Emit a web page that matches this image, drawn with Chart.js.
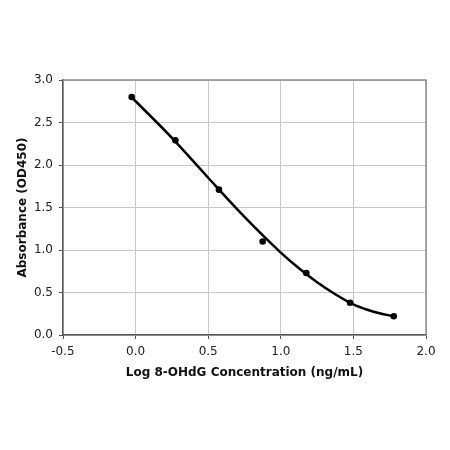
<!DOCTYPE html>
<html>
<head>
<meta charset="utf-8">
<script src="https://cdn.jsdelivr.net/npm/chart.js@4.4.1/dist/chart.umd.min.js"></script>
<style>
html,body{margin:0;padding:0;background:#fff;}
canvas{display:block;}
</style>
</head>
<body>
<canvas id="c" width="450" height="450"></canvas>
<script>
// Measured standard points
const logConc = [-0.027, 0.274, 0.574, 0.875, 1.176, 1.477, 1.778];
const absorbance = [2.80, 2.29, 1.71, 1.10, 0.73, 0.38, 0.22];
// Fitted curve
const fitX = [-0.03, 0.0, 0.25, 0.5, 0.75, 1.0, 1.125, 1.25, 1.375, 1.5, 1.59, 1.68, 1.78];
const fitY = [2.80, 2.75, 2.32, 1.85, 1.39, 0.97, 0.785, 0.62, 0.48, 0.36, 0.30, 0.255, 0.22];
// Axis settings
const xTitle = 'Log 8-OHdG Concentration (ng/mL)';
const yTitle = 'Absorbance (OD450)';
const xRange = [-0.5, 2.0];
const yRange = [0, 3.0];
const tickStep = 0.5;

const pts = logConc.map((x, i) => ({x: x, y: absorbance[i]}));
const fit = fitX.map((x, i) => ({x: x, y: fitY[i]}));

const framePlugin = {
  id: 'frame',
  beforeDatasetsDraw(chart) {
    const a = chart.chartArea, ctx = chart.ctx;
    ctx.save();
    ctx.strokeStyle = '#8c8c8c';
    ctx.lineWidth = 1.5;
    ctx.beginPath();
    ctx.moveTo(a.left, a.top);
    ctx.lineTo(a.right, a.top);
    ctx.lineTo(a.right, a.bottom);
    ctx.stroke();
    ctx.restore();
  }
};

const font = {family: '"DejaVu Sans", Verdana, sans-serif', size: 12};

new Chart(document.getElementById('c'), {
  type: 'scatter',
  data: {
    datasets: [
      {
        data: fit,
        showLine: true,
        borderColor: '#000',
        borderWidth: 2.5,
        pointRadius: 0,
        cubicInterpolationMode: 'monotone',
        fill: false
      },
      {
        data: pts,
        showLine: false,
        backgroundColor: '#000',
        borderColor: '#000',
        pointRadius: 3.3,
        pointBorderWidth: 0
      }
    ]
  },
  options: {
    responsive: false,
    animation: false,
    devicePixelRatio: 1,
    layout: {padding: {left: 16, top: 80, right: 24, bottom: 70}},
    plugins: {legend: {display: false}, tooltip: {enabled: false}},
    scales: {
      x: {
        type: 'linear',
        min: xRange[0], max: xRange[1],
        ticks: {stepSize: tickStep, color: '#222', font: font, padding: 6,
          callback: v => v.toFixed(1)},
        grid: {color: '#c8c8c8', lineWidth: 1, tickLength: 4, tickColor: '#555'},
        border: {color: '#555', width: 1.5},
        title: {display: true, text: xTitle, color: '#111',
          font: {family: font.family, size: 12, weight: 'bold'}, padding: 0},
        afterFit(s) { s.height = 45; }
      },
      y: {
        type: 'linear',
        min: yRange[0], max: yRange[1],
        ticks: {stepSize: tickStep, color: '#222', font: font, padding: 6,
          callback: v => v.toFixed(1)},
        grid: {color: '#c8c8c8', lineWidth: 1, tickLength: 4, tickColor: '#555'},
        border: {color: '#555', width: 1.5},
        title: {display: true, text: yTitle, color: '#111',
          font: {family: font.family, size: 12, weight: 'bold'}, padding: 0},
        afterFit(s) { s.width = 47; }
      }
    }
  },
  plugins: [framePlugin]
});
</script>
</body>
</html>
